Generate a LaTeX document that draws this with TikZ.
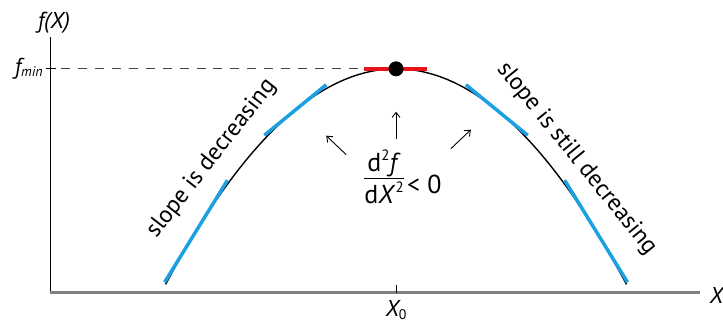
\documentclass[tikz,border=0pt]{standalone}
\usepackage{fontspec}
\setmainfont{PT Sans}
\usetikzlibrary{arrows.meta}
\definecolor{cblue}{RGB}{27,161,226}
\definecolor{cred}{RGB}{232,20,27}
\definecolor{axgray}{RGB}{128,128,128}
\definecolor{dashgray}{RGB}{70,70,70}
\newcommand\tangseg[2]{\draw[tang] ({#1-#2},{fc(#1)-fd(#1)*#2}) -- ({#1+#2},{fc(#1)+fd(#1)*#2});}
\newcommand\supsq{\raisebox{0.42em}{\fontsize{15}{15}\selectfont 2}}
\begin{document}
\begin{tikzpicture}[x=1pt,y=-1pt,
  declare function={fc(\x)=69+40.5*((\x-397)/100)^2; fd(\x)=0.81*(\x-397)/100;},
  tang/.style={cblue,line width=3.5pt},
  curve/.style={black,line width=1.4pt},
  arr/.style={black,line width=0.9pt,-{Straight Barb[length=5pt,width=8pt]}},
  lbl/.style={inner sep=0pt,font=\fontsize{23}{27}\selectfont},
  rot/.style={inner sep=0pt,font=\fontsize{24}{28}\selectfont},
  big/.style={inner sep=0pt,font=\fontsize{26}{30}\selectfont}]
\path (0,0) rectangle (723,326);
% axes
\draw[black,line width=1pt] (51,37) -- (51,293);
\draw[axgray,line width=2.5pt] (50,293) -- (702,293);
\draw[black,line width=0.9pt] (397,286) -- (397,294);
\draw[black,line width=0.9pt] (46,69) -- (56,69);
\draw[dashgray,line width=1pt,dash pattern=on 9pt off 8pt] (61,69) -- (365,69);
% curve
\draw[curve] plot[domain=166:628,samples=120] (\x,{fc(\x)});
% tangents
\tangseg{196.5}{31.5}
\tangseg{296}{31}
\tangseg{498}{31}
\tangseg{597.5}{31.5}
\draw[cred,line width=3.5pt] (365,69) -- (428,69);
\fill[black] (397,69) circle (7.5);
% arrows
\coordinate (a1s) at (347,155); \coordinate (a1e) at (327,136);
\coordinate (a2s) at (397,139); \coordinate (a2e) at (397,112);
\coordinate (a3s) at (452,149); \coordinate (a3e) at (472,130);
\draw[arr] (a1s) -- (a1e);
\draw[arr] (a2s) -- (a2e);
\draw[arr] (a3s) -- (a3e);
% labels
\node[lbl] (fx) at (54,23) {\itshape f(X)};
\node[lbl,anchor=east] (fmin) at (43,69) {\itshape f\fontsize{14}{14}\selectfont\raisebox{-2pt}{min}};
\node[lbl,anchor=west] (xl) at (711,296) {\itshape X};
\node[lbl] (x0) at (397,311) {\itshape X\fontsize{14}{14}\selectfont\upshape\raisebox{-3pt}{0}};
\node[rot,rotate=52] (t1) at (212,159) {slope is decreasing};
\node[rot,rotate=-51] (t2) at (578,159) {slope is still decreasing};
\node[big] (num) at (385,164) {d\supsq\textit{f}};
\node[big] (den) at (385,193) {d\textit{X}\supsq};
\draw[black,line width=1.2pt] (365,179) -- (405,179);
\node[big,anchor=west] (lt) at (408,185) {< 0};
\end{tikzpicture}
\end{document}
